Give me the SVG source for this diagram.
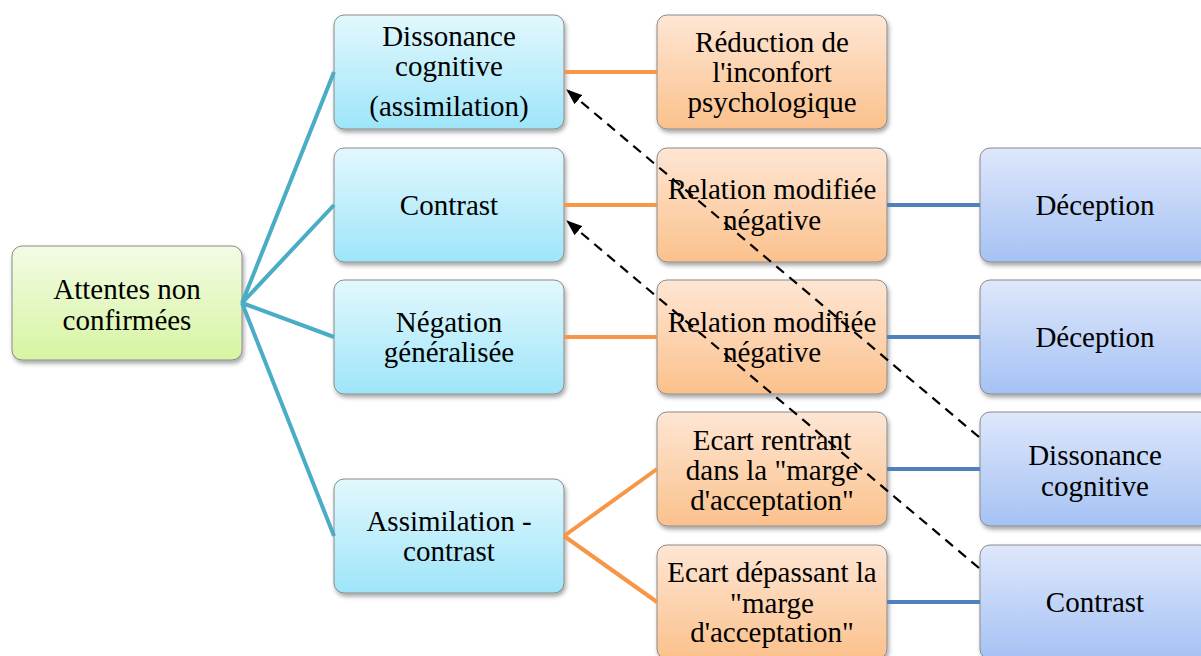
<svg xmlns="http://www.w3.org/2000/svg" width="1201" height="656" viewBox="0 0 1201 656">
<defs>
<linearGradient id="gGreen" x1="0" y1="0" x2="0" y2="1"><stop offset="0" stop-color="#f3fbe4"/><stop offset="1" stop-color="#d6f5a2"/></linearGradient>
<linearGradient id="gCyan" x1="0" y1="0" x2="0" y2="1"><stop offset="0" stop-color="#e2f8fd"/><stop offset="1" stop-color="#9ee5f9"/></linearGradient>
<linearGradient id="gOrange" x1="0" y1="0" x2="0" y2="1"><stop offset="0" stop-color="#fee6d4"/><stop offset="1" stop-color="#fbc18c"/></linearGradient>
<linearGradient id="gBlue" x1="0" y1="0" x2="0" y2="1"><stop offset="0" stop-color="#dee7fb"/><stop offset="1" stop-color="#a5c2f4"/></linearGradient>
<filter id="sh" x="-10%" y="-10%" width="120%" height="130%"><feDropShadow dx="1.5" dy="3" stdDeviation="2" flood-color="#000" flood-opacity="0.35"/></filter>
<marker id="arr" markerWidth="16" markerHeight="12" refX="15" refY="6" orient="auto" markerUnits="userSpaceOnUse"><path d="M0,0 L16,6 L0,12 Z" fill="#000"/></marker>
</defs>
<g id="nodes" text-anchor="middle" stroke="#8a8a8a" stroke-width="1">
<g id="n-root"><rect fill="url(#gGreen)" filter="url(#sh)" x="12" y="246" width="230" height="114" rx="10"/><text stroke="none" fill="#000" font-size="29" font-family="Liberation Serif" x="127" y="299">Attentes non</text><text stroke="none" fill="#000" font-size="29" font-family="Liberation Serif" x="127" y="330">confirmées</text></g>
<g id="n-dissonance"><rect fill="url(#gCyan)" filter="url(#sh)" x="334" y="15" width="230" height="114" rx="10"/><text stroke="none" fill="#000" font-size="29" font-family="Liberation Serif" x="449" y="46">Dissonance</text><text stroke="none" fill="#000" font-size="29" font-family="Liberation Serif" x="449" y="76">cognitive</text><text stroke="none" fill="#000" font-size="29" font-family="Liberation Serif" x="449" y="116">(assimilation)</text></g>
<g id="n-contrast"><rect fill="url(#gCyan)" filter="url(#sh)" x="334" y="148" width="230" height="114" rx="10"/><text stroke="none" fill="#000" font-size="29" font-family="Liberation Serif" x="449" y="215">Contrast</text></g>
<g id="n-negation"><rect fill="url(#gCyan)" filter="url(#sh)" x="334" y="280" width="230" height="114" rx="10"/><text stroke="none" fill="#000" font-size="29" font-family="Liberation Serif" x="449" y="332">Négation</text><text stroke="none" fill="#000" font-size="29" font-family="Liberation Serif" x="449" y="362">généralisée</text></g>
<g id="n-assim"><rect fill="url(#gCyan)" filter="url(#sh)" x="334" y="479" width="230" height="114" rx="10"/><text stroke="none" fill="#000" font-size="29" font-family="Liberation Serif" x="449" y="531">Assimilation -</text><text stroke="none" fill="#000" font-size="29" font-family="Liberation Serif" x="449" y="561">contrast</text></g>
<g id="n-reduction"><rect fill="url(#gOrange)" filter="url(#sh)" x="657" y="15" width="230" height="114" rx="10"/><text stroke="none" fill="#000" font-size="29" font-family="Liberation Serif" x="772" y="52">Réduction de</text><text stroke="none" fill="#000" font-size="29" font-family="Liberation Serif" x="772" y="82">l'inconfort</text><text stroke="none" fill="#000" font-size="29" font-family="Liberation Serif" x="772" y="112">psychologique</text></g>
<g id="n-relation1"><rect fill="url(#gOrange)" filter="url(#sh)" x="657" y="148" width="230" height="114" rx="10"/><text stroke="none" fill="#000" font-size="29" font-family="Liberation Serif" x="772" y="199">Relation modifiée</text><text stroke="none" fill="#000" font-size="29" font-family="Liberation Serif" x="772" y="230">négative</text></g>
<g id="n-relation2"><rect fill="url(#gOrange)" filter="url(#sh)" x="657" y="280" width="230" height="114" rx="10"/><text stroke="none" fill="#000" font-size="29" font-family="Liberation Serif" x="772" y="332">Relation modifiée</text><text stroke="none" fill="#000" font-size="29" font-family="Liberation Serif" x="772" y="362">négative</text></g>
<g id="n-ecart1"><rect fill="url(#gOrange)" filter="url(#sh)" x="657" y="412" width="230" height="114" rx="10"/><text stroke="none" fill="#000" font-size="29" font-family="Liberation Serif" x="772" y="450">Ecart rentrant</text><text stroke="none" fill="#000" font-size="29" font-family="Liberation Serif" x="772" y="480">dans la "marge</text><text stroke="none" fill="#000" font-size="29" font-family="Liberation Serif" x="772" y="510">d'acceptation"</text></g>
<g id="n-ecart2"><rect fill="url(#gOrange)" filter="url(#sh)" x="657" y="545" width="230" height="114" rx="10"/><text stroke="none" fill="#000" font-size="29" font-family="Liberation Serif" x="772" y="582">Ecart dépassant la</text><text stroke="none" fill="#000" font-size="29" font-family="Liberation Serif" x="772" y="613">"marge</text><text stroke="none" fill="#000" font-size="29" font-family="Liberation Serif" x="772" y="642">d'acceptation"</text></g>
<g id="n-deception1"><rect fill="url(#gBlue)" filter="url(#sh)" x="980" y="148" width="230" height="114" rx="10"/><text stroke="none" fill="#000" font-size="29" font-family="Liberation Serif" x="1095" y="215">Déception</text></g>
<g id="n-deception2"><rect fill="url(#gBlue)" filter="url(#sh)" x="980" y="280" width="230" height="114" rx="10"/><text stroke="none" fill="#000" font-size="29" font-family="Liberation Serif" x="1095" y="347">Déception</text></g>
<g id="n-dissonance2"><rect fill="url(#gBlue)" filter="url(#sh)" x="980" y="412" width="230" height="114" rx="10"/><text stroke="none" fill="#000" font-size="29" font-family="Liberation Serif" x="1095" y="465">Dissonance</text><text stroke="none" fill="#000" font-size="29" font-family="Liberation Serif" x="1095" y="496">cognitive</text></g>
<g id="n-contrast2"><rect fill="url(#gBlue)" filter="url(#sh)" x="980" y="545" width="230" height="114" rx="10"/><text stroke="none" fill="#000" font-size="29" font-family="Liberation Serif" x="1095" y="612">Contrast</text></g>
</g>
<g id="connectors" fill="none" stroke-width="4">
<path stroke="#4bacc6" d="M242,303 L334,72 M242,303 L334,205 M242,303 L334,337 M242,303 L334,536"/>
<path stroke="#f79646" d="M564,72 L657,72 M564,205 L657,205 M564,337 L657,337 M564,536 L657,469 M564,536 L657,602"/>
<path stroke="#4f81bd" d="M887,205 L980,205 M887,337 L980,337 M887,469 L980,469 M887,602 L980,602"/>
<path stroke="#000" stroke-width="2.2" stroke-dasharray="10 7" d="M979,437 L567,90" marker-end="url(#arr)"/>
<path stroke="#000" stroke-width="2.2" stroke-dasharray="10 7" d="M979,568 L567,221" marker-end="url(#arr)"/>
</g>
</svg>
